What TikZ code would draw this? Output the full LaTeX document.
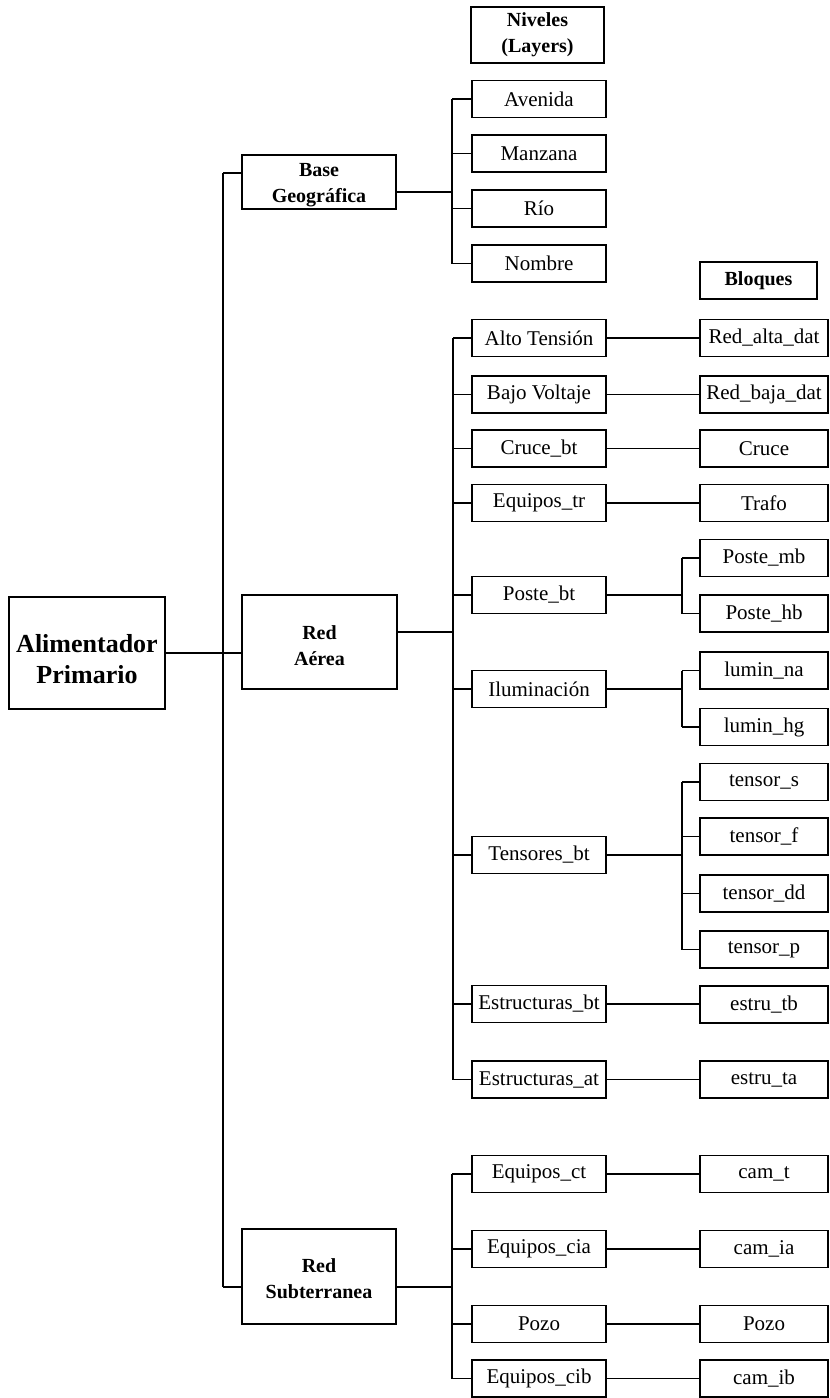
\documentclass[tikz,border=0pt]{standalone}
\usepackage{fontspec}
\setmainfont{Liberation Serif}
\usetikzlibrary{calc}
% two centred lines whose ink is lowered by #1 while the box keeps its size
\newcommand\lowpair[3]{\raisebox{#1}[\height][\depth]{\begin{tabular}{@{}c@{}}#2\\#3\end{tabular}}}
\begin{document}
\begin{tikzpicture}[x=1pt,y=-1pt,
  box/.style={draw, line width=1.3pt, rectangle, inner sep=0pt, align=center,
              font=\fontsize{21}{25}\selectfont},
  lv/.style={box, minimum width=134pt, minimum height=37pt},
  blk/.style={box, minimum width=128pt, minimum height=37pt},
  head/.style={box, font=\fontsize{20}{26}\selectfont\bfseries},
  link/.style={line width=1.2pt},
  trunk/.style={line width=1.7pt}]
\useasboundingbox (0,0) rectangle (830,1398);

% root and first level
\node[box, minimum width=156pt, minimum height=112pt,
      font=\fontsize{26}{31}\selectfont\bfseries] (alim) at (87,653) {\lowpair{-9pt}{Alimentador}{Primario}};
\node[head, minimum width=154pt, minimum height=54pt] (base) at (319,182) {\lowpair{-2pt}{Base}{Geográfica}};
\node[head, minimum width=155pt, minimum height=94pt] (aerea) at (319.5,642) {\lowpair{-5pt}{Red}{Aérea}};
\node[head, minimum width=154pt, minimum height=95pt] (sub) at (319,1276.5) {\lowpair{-4pt}{Red}{Subterranea}};

% column headings
\node[head, minimum width=133pt, minimum height=56pt] (niveles) at (537.5,35) {Niveles\\(Layers)};
\node[head, minimum width=117pt, minimum height=37pt] (bloques) at (758.5,280.5) {Bloques};

% layers
\node[lv] (avenida) at (539,99) {Avenida};
\node[lv] (manzana) at (539,153.5) {Manzana};
\node[lv] (rio) at (539,208.5) {Río};
\node[lv] (nombre) at (539,263.5) {Nombre};
\node[lv] (alto) at (539,338) {Alto Tensión};
\node[lv] (bajo) at (539,394.5) {Bajo Voltaje};
\node[lv] (cruce) at (539,448.5) {Cruce\_bt};
\node[lv] (eqtr) at (539,503) {Equipos\_tr};
\node[lv] (poste) at (539,595) {Poste\_bt};
\node[lv] (ilum) at (539,689) {Iluminación};
\node[lv] (tens) at (539,855) {Tensores\_bt};
\node[lv] (estbt) at (539,1004) {Estructuras\_bt};
\node[lv] (estat) at (539,1079.5) {Estructuras\_at};
\node[lv] (eqct) at (539,1174) {Equipos\_ct};
\node[lv] (eqcia) at (539,1249) {Equipos\_cia};
\node[lv] (pozo) at (539,1324) {Pozo};
\node[lv] (eqcib) at (539,1378.5) {Equipos\_cib};

% blocks
\node[blk] (redalta) at (764,338) {Red\_alta\_dat};
\node[blk] (redbaja) at (764,394.5) {Red\_baja\_dat};
\node[blk] (cruceb) at (764,448.5) {Cruce};
\node[blk] (trafo) at (764,503) {Trafo};
\node[blk] (postemb) at (764,558) {Poste\_mb};
\node[blk] (postehb) at (764,613.5) {Poste\_hb};
\node[blk] (luminna) at (764,670.5) {lumin\_na};
\node[blk] (luminhg) at (764,727) {lumin\_hg};
\node[blk] (tensors) at (764,782) {tensor\_s};
\node[blk] (tensorf) at (764,836.5) {tensor\_f};
\node[blk] (tensordd) at (764,893.5) {tensor\_dd};
\node[blk] (tensorp) at (764,949.5) {tensor\_p};
\node[blk] (estrutb) at (764,1004.5) {estru\_tb};
\node[blk] (estruta) at (764,1079.5) {estru\_ta};
\node[blk] (camt) at (764,1174) {cam\_t};
\node[blk] (camia) at (764,1249) {cam\_ia};
\node[blk] (pozob) at (764,1324) {Pozo};
\node[blk] (camib) at (764,1378.5) {cam\_ib};

% main trunk
\coordinate (tt) at (223,173);
\coordinate (tb) at (223,1287);
\draw[trunk] (tt) -- (tb);
\draw[link] (tt) -- (tt -| base.west);
\draw[link] (tb) -- (tb -| sub.west);
\draw[link] (alim.east) -- (alim.east -| aerea.west);

% base geografica branch
\coordinate (bgo) at (452,192);
\draw[link] (bgo -| base.east) -- (bgo);
\draw[link] (avenida.west -| bgo) -- (nombre.west -| bgo);
\foreach \n in {avenida,manzana,rio,nombre}
  \draw[link] (\n.west -| bgo) -- (\n.west);

% red aerea branch
\coordinate (rao) at (453,632);
\draw[link] (rao -| aerea.east) -- (rao);
\draw[trunk] (alto.west -| rao) -- (estat.west -| rao);
\foreach \n in {alto,bajo,cruce,eqtr,poste,ilum,tens,estbt,estat}
  \draw[link] (\n.west -| rao) -- (\n.west);

% red subterranea branch
\coordinate (rso) at (452,1287);
\draw[link] (rso -| sub.east) -- (rso);
\draw[link] (eqct.west -| rso) -- (eqcib.west -| rso);
\foreach \n in {eqct,eqcia,pozo,eqcib}
  \draw[link] (\n.west -| rso) -- (\n.west);

% one block per layer
\foreach \a/\b in {alto/redalta,bajo/redbaja,cruce/cruceb,eqtr/trafo,
                   estbt/estrutb,estat/estruta,eqct/camt,eqcia/camia,
                   pozo/pozob,eqcib/camib}
  \draw[link] (\a.east) -- (\a.east -| \b.west);

% layers holding several blocks
\coordinate (pj) at (682,595);
\draw[link] (poste.east) -- (poste.east -| pj);
\draw[link] (postemb.west -| pj) -- (postehb.west -| pj);
\foreach \n in {postemb,postehb} \draw[link] (\n.west -| pj) -- (\n.west);

\coordinate (ij) at (682,689);
\draw[link] (ilum.east) -- (ilum.east -| ij);
\draw[link] (luminna.west -| ij) -- (luminhg.west -| ij);
\foreach \n in {luminna,luminhg} \draw[link] (\n.west -| ij) -- (\n.west);

\coordinate (tj) at (682,855);
\draw[link] (tens.east) -- (tens.east -| tj);
\draw[link] (tensors.west -| tj) -- (tensorp.west -| tj);
\foreach \n in {tensors,tensorf,tensordd,tensorp} \draw[link] (\n.west -| tj) -- (\n.west);
\end{tikzpicture}
\end{document}
